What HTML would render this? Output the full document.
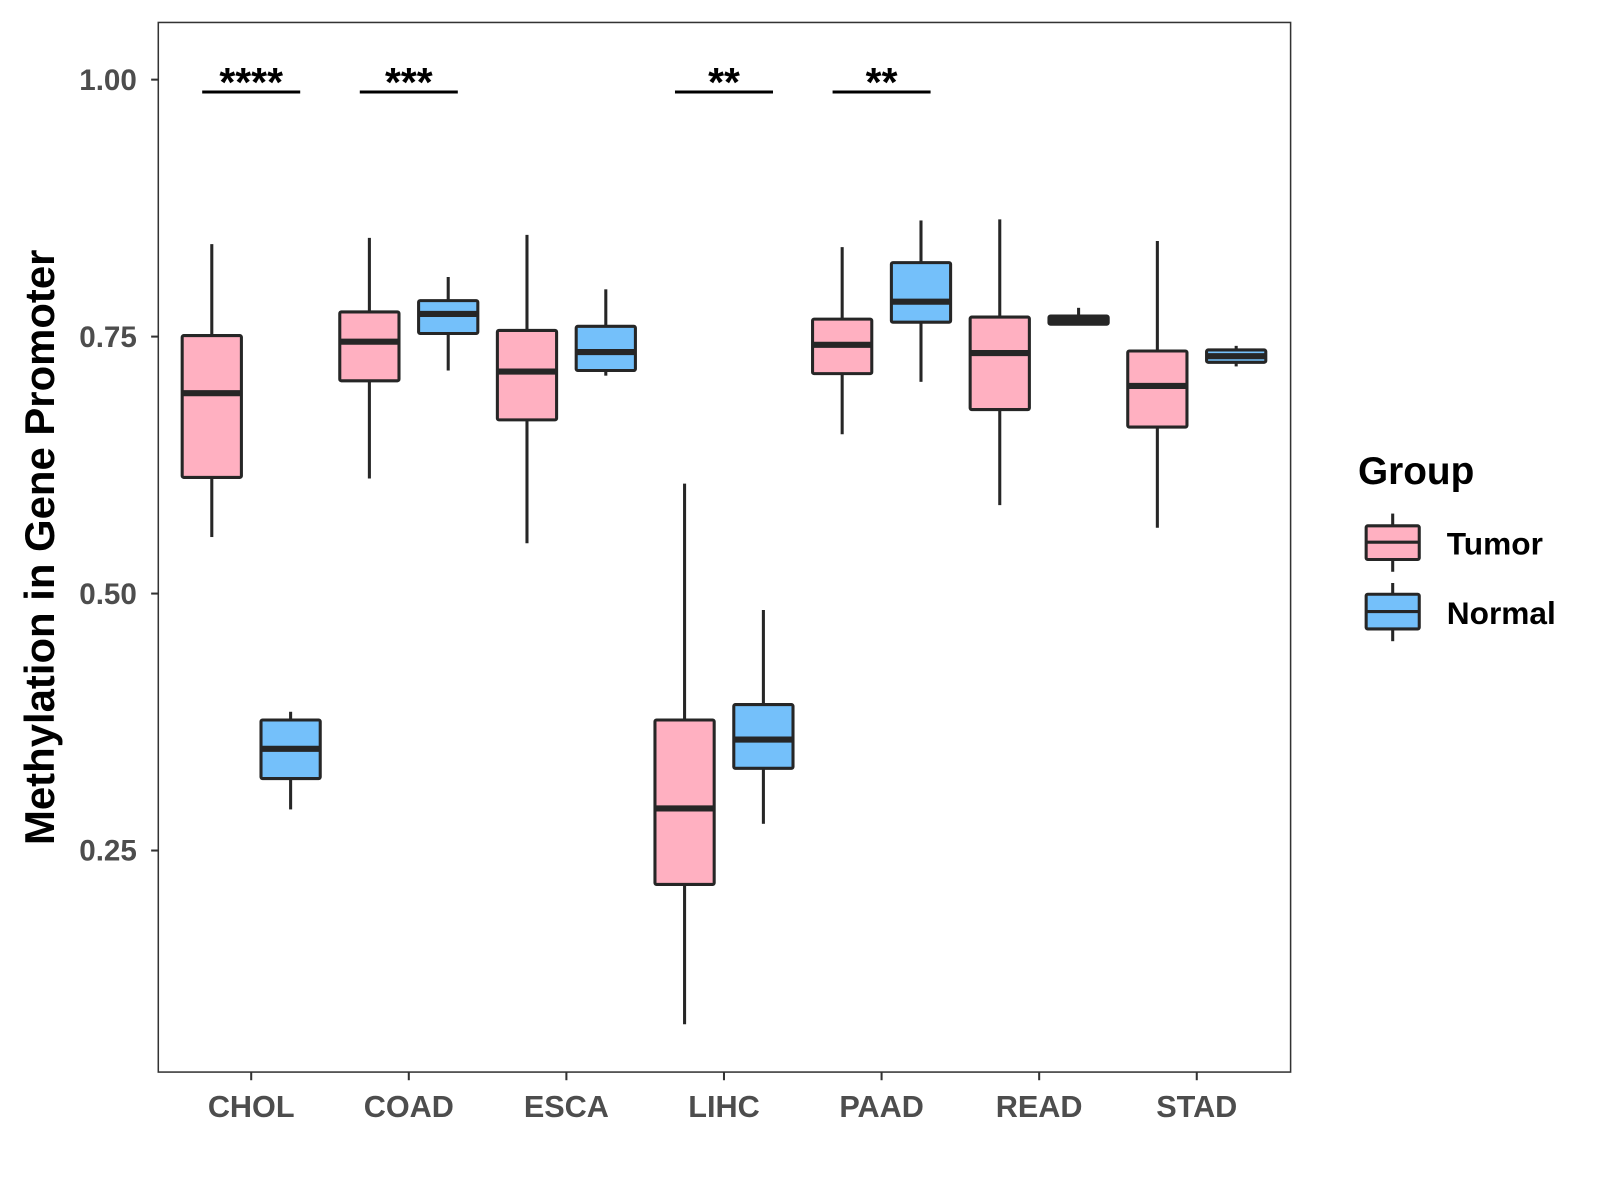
<!DOCTYPE html>
<html><head><meta charset="utf-8"><style>
html,body{margin:0;padding:0;background:#fff}
svg{display:block}
text{font-family:"Liberation Sans",Arial,sans-serif;font-weight:bold}
</style></head><body>
<svg id="chart" width="1600" height="1200" viewBox="0 0 1567 1175.3" xmlns="http://www.w3.org/2000/svg">
<rect x="0" y="0" width="1567" height="1176" fill="#fff"/>
<rect x="155" y="22" width="1109" height="1028" fill="#fff" stroke="#333" stroke-width="1.5"/>
<g id="marks"></g>
<g id="axes"></g>
<text transform="translate(53,536) rotate(-90)" text-anchor="middle" font-size="41" fill="#000">Methylation in Gene Promoter</text>
<g>
<text x="1330" y="474" font-size="38" fill="#000">Group</text>
<g>
<line x1="1364" y1="503" x2="1364" y2="560" stroke="#262626" stroke-width="3"/>
<rect x="1338" y="515" width="52" height="33" fill="#FFB0C1" stroke="#262626" stroke-width="3" rx="1.5"/>
<line x1="1338" y1="531" x2="1390" y2="531" stroke="#262626" stroke-width="3"/>
<text x="1417" y="543" font-size="31" fill="#000">Tumor</text>
</g>
<g>
<line x1="1364" y1="571" x2="1364" y2="628" stroke="#262626" stroke-width="3"/>
<rect x="1338" y="582" width="52" height="34" fill="#74C0FA" stroke="#262626" stroke-width="3" rx="1.5"/>
<line x1="1338" y1="599" x2="1390" y2="599" stroke="#262626" stroke-width="3"/>
<text x="1417" y="611" font-size="31" fill="#000">Normal</text>
</g>
</g>
</svg>
<script>
const categories = ["CHOL","COAD","ESCA","LIHC","PAAD","READ","STAD"];
// [lowerWhisker, Q1, median, Q3, upperWhisker]
const tumorStats = [
  [0.555,0.613,0.695,0.751,0.840],
  [0.612,0.707,0.745,0.774,0.846],
  [0.549,0.669,0.716,0.756,0.849],
  [0.081,0.217,0.291,0.377,0.607],
  [0.655,0.714,0.742,0.767,0.837],
  [0.586,0.679,0.734,0.769,0.864],
  [0.564,0.662,0.702,0.736,0.843]
];
const normalStats = [
  [0.290,0.320,0.349,0.377,0.385],
  [0.717,0.753,0.772,0.785,0.808],
  [0.712,0.717,0.735,0.760,0.796],
  [0.276,0.330,0.358,0.392,0.484],
  [0.706,0.764,0.784,0.822,0.863],
  [0.762,0.762,0.766,0.770,0.778],
  [0.721,0.725,0.731,0.737,0.741]
];
const yTicks = [0.25,0.50,0.75,1.00];
const yTickLabels = ["0.25","0.50","0.75","1.00"];
const sigCategories = ["CHOL","COAD","LIHC","PAAD"];
const sigLabels = ["****","***","**","**"];
const sigLevel = [0.988,0.988,0.988,0.988];

const NS="http://www.w3.org/2000/svg";
const xScale = i => 246 + i*154.35;
const yScale = v => 78 + (1 - v)*1006.7;
const marks = document.getElementById('marks');
const axes = document.getElementById('axes');
function mk(tag, attrs, parent){const e=document.createElementNS(NS,tag);for(const k in attrs)e.setAttribute(k,attrs[k]);parent.appendChild(e);return e;}

function drawBox(s, cx, fill, name, parent){
  const g = mk('g',{},parent);
  
  
  const w=58, c="#262626";
  mk('line',{x1:cx,x2:cx,y1:yScale(s[4]),y2:yScale(s[3]),stroke:c,'stroke-width':3},g);
  mk('line',{x1:cx,x2:cx,y1:yScale(s[1]),y2:yScale(s[0]),stroke:c,'stroke-width':3},g);
  mk('rect',{x:cx-w/2,y:yScale(s[3]),width:w,height:Math.max(yScale(s[1])-yScale(s[3]),0.5),fill:fill,stroke:c,'stroke-width':3,rx:1.5},g);
  mk('line',{x1:cx-w/2,x2:cx+w/2,y1:yScale(s[2]),y2:yScale(s[2]),stroke:c,'stroke-width':6},g);
}
categories.forEach((cat,i)=>{
  const cx=xScale(i);
  drawBox(tumorStats[i], cx-38.6, "#FFB0C1", 'box-tumor-'+cat.toLowerCase(), marks);
  drawBox(normalStats[i], cx+38.6, "#74C0FA", 'box-normal-'+cat.toLowerCase(), marks);
  const t=mk('line',{x1:cx,x2:cx,y1:1050,y2:1058,stroke:'#333','stroke-width':2},axes);
  
  
  const lb=mk('text',{x:cx,y:1094,'text-anchor':'middle','font-size':30,fill:'#4d4d4d'},axes);
  
  
  lb.textContent=cat;
});
yTicks.forEach((v,i)=>{
  const y=yScale(v);
  const t=mk('line',{x1:148,x2:155,y1:y,y2:y,stroke:'#333','stroke-width':2},axes);
  
  
  const lb=mk('text',{x:134,y:y+10,'text-anchor':'end','font-size':29,fill:'#4d4d4d'},axes);
  
  
  lb.textContent=yTickLabels[i];
});
sigCategories.forEach((cat,i)=>{
  const cx=xScale(categories.indexOf(cat));
  const y=yScale(sigLevel[i]);
  const g=mk('g',{},marks);
  
  
  mk('line',{x1:cx-48,x2:cx+48,y1:y,y2:y,stroke:'#000','stroke-width':3},g);
  const tx=mk('text',{x:cx,y:y+4,'text-anchor':'middle','font-size':40,fill:'#000'},g);
  tx.textContent=sigLabels[i];
});
</script>
</body></html>
